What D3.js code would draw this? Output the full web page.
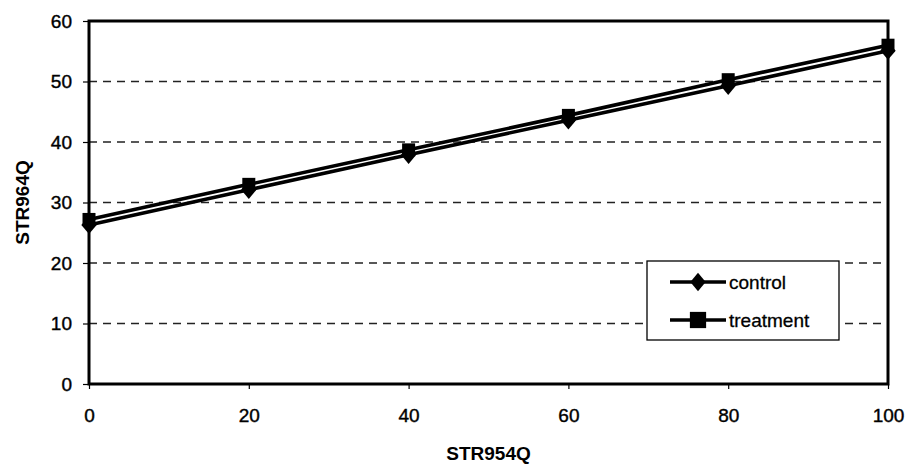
<!DOCTYPE html>
<html>
<head>
<meta charset="utf-8">
<script src="https://cdn.jsdelivr.net/npm/d3@7"></script>
<style>
  body { margin: 0; background: #fff; }
  text { font-family: Arial, "Liberation Sans", sans-serif; fill: #000; }
</style>
</head>
<body>
<div id="chart"></div>
<script>
// Data
const xValues = [0, 20, 40, 60, 80, 100];
const control = [26.3, 32.1, 37.9, 43.6, 49.3, 55.1];
const treatment = [27.2, 33.0, 38.7, 44.4, 50.3, 56.0];
const xTicks = [0, 20, 40, 60, 80, 100];
const yTicks = [0, 10, 20, 30, 40, 50, 60];
const seriesNames = ["control", "treatment"];

const width = 911;
const height = 471;
const margin = { top: 21, right: 23, bottom: 87, left: 89 };

const svg = d3.select("#chart")
  .append("svg")
  .attr("width", width)
  .attr("height", height);

const xScale = d3.scaleLinear()
  .domain([0, 100])
  .range([margin.left, width - margin.right]);

const yScale = d3.scaleLinear()
  .domain([0, 60])
  .range([height - margin.bottom, margin.top]);

// dashed gridlines
svg.append("g")
  .selectAll("line")
  .data(yTicks.filter(d => d > 0 && d < 60))
  .enter()
  .append("line")
  .attr("x1", margin.left)
  .attr("x2", width - margin.right)
  .attr("y1", d => yScale(d))
  .attr("y2", d => yScale(d))
  .attr("stroke", "#222")
  .attr("stroke-width", 1.4)
  .attr("stroke-dasharray", "8,6");

// x axis
const xAxis = svg.append("g")
  .attr("transform", `translate(0,${height - margin.bottom})`)
  .call(d3.axisBottom(xScale).tickValues(xTicks).tickSize(5).tickPadding(20).tickFormat(d3.format("d")));
xAxis.select(".domain").remove();
xAxis.selectAll("line").attr("stroke", "#000").attr("stroke-width", 1.2);
xAxis.selectAll("text")
  .style("font-size", "19px")
  .style("font-family", "Arial, 'Liberation Sans', sans-serif")
  .attr("stroke", "#000").attr("stroke-width", 0.4);

// y axis
const yAxis = svg.append("g")
  .attr("transform", `translate(${margin.left},0)`)
  .call(d3.axisLeft(yScale).tickValues(yTicks).tickSize(6).tickPadding(11).tickFormat(d3.format("d")));
yAxis.select(".domain").remove();
yAxis.selectAll("line").attr("stroke", "#000").attr("stroke-width", 1.2);
yAxis.selectAll("text")
  .style("font-size", "19px")
  .style("font-family", "Arial, 'Liberation Sans', sans-serif")
  .attr("stroke", "#000").attr("stroke-width", 0.4);

// plot frame
svg.append("rect")
  .attr("x", margin.left)
  .attr("y", margin.top)
  .attr("width", width - margin.left - margin.right)
  .attr("height", height - margin.top - margin.bottom)
  .attr("fill", "none")
  .attr("stroke", "#000")
  .attr("stroke-width", 3);

// axis titles
svg.append("text")
  .attr("x", (margin.left + width - margin.right) / 2)
  .attr("y", 460)
  .attr("text-anchor", "middle")
  .style("font-size", "19px")
  .style("font-weight", "bold")
  .text("STR954Q");

svg.append("text")
  .attr("transform", `translate(29,${(margin.top + height - margin.bottom) / 2}) rotate(-90)`)
  .attr("text-anchor", "middle")
  .style("font-size", "19px")
  .style("font-weight", "bold")
  .text("STR964Q");

const line = d3.line()
  .x((d, i) => xScale(xValues[i]))
  .y(d => yScale(d));

const diamond = d3.symbol().type(d3.symbolDiamond2).size(150);
const square = d3.symbol().type(d3.symbolSquare).size(169);

// control series
svg.append("path")
  .datum(control)
  .attr("d", line)
  .attr("fill", "none")
  .attr("stroke", "#000")
  .attr("stroke-width", 3.6);
svg.append("g")
  .selectAll("path")
  .data(control)
  .enter()
  .append("path")
  .attr("d", diamond)
  .attr("transform", (d, i) => `translate(${xScale(xValues[i])},${yScale(d)}) scale(1,1.2)`)
  .attr("fill", "#000");

// treatment series
svg.append("path")
  .datum(treatment)
  .attr("d", line)
  .attr("fill", "none")
  .attr("stroke", "#000")
  .attr("stroke-width", 3.6);
svg.append("g")
  .selectAll("path")
  .data(treatment)
  .enter()
  .append("path")
  .attr("d", square)
  .attr("transform", (d, i) => `translate(${xScale(xValues[i])},${yScale(d)})`)
  .attr("fill", "#000");

// legend
const legend = svg.append("g").attr("transform", "translate(647,261)");
legend.append("rect")
  .attr("width", 192)
  .attr("height", 79)
  .attr("fill", "#fff")
  .attr("stroke", "#000")
  .attr("stroke-width", 1.3);

const items = legend.selectAll("g.item")
  .data(seriesNames)
  .enter()
  .append("g")
  .attr("class", "item")
  .attr("transform", (d, i) => `translate(0,${21 + i * 38})`);

items.append("line")
  .attr("x1", 23)
  .attr("x2", 79)
  .attr("stroke", "#000")
  .attr("stroke-width", 3.6);

items.append("path")
  .attr("d", (d, i) => i === 0 ? diamond() : square())
  .attr("transform", (d, i) => i === 0 ? "translate(51,0) scale(1,1.2)" : "translate(51,0) scale(1.25)")
  .attr("fill", "#000");

items.append("text")
  .attr("x", 82)
  .attr("dy", "0.35em")
  .style("font-size", "19px")
  .attr("stroke", "#000").attr("stroke-width", 0.3)
  .text(d => d);
</script>
</body>
</html>
